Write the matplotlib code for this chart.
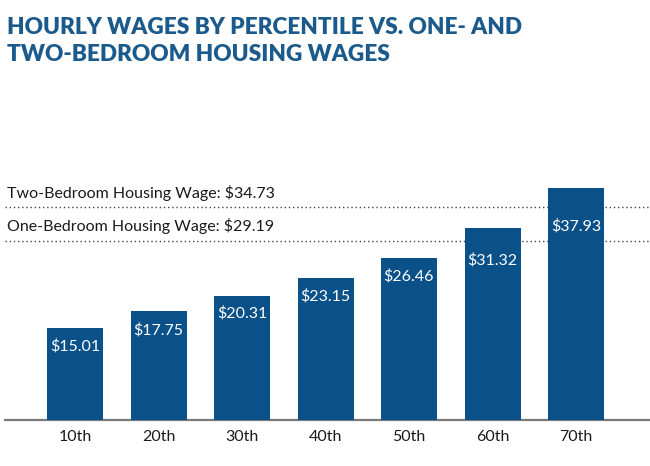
import matplotlib
matplotlib.use("Agg")
import matplotlib.pyplot as plt

categories = ["10th", "20th", "30th", "40th", "50th", "60th", "70th"]
wages = [15.01, 17.75, 20.31, 23.15, 26.46, 31.32, 37.93]
one_bed = 29.19
two_bed = 34.73
title_lines = ["HOURLY WAGES BY PERCENTILE VS. ONE- AND", "TWO-BEDROOM HOUSING WAGES"]

BAR = "#0b5189"
TITLE_C = "#1b5a8c"
TEXT_C = "#1a1a1a"

plt.rcParams['font.family'] = ['Lato', 'DejaVu Sans']

W, H = 650, 466
fig = plt.figure(figsize=(W / 100, H / 100), dpi=100)
ax_left, ax_right = 5, 650
base_y, top_y = 420, 175
ax = fig.add_axes([ax_left / W, (H - base_y) / H, (ax_right - ax_left) / W, (base_y - top_y) / H])

x = list(range(len(categories)))
px_per_unit = 83.5
ax.set_xlim(-(75 - ax_left) / px_per_unit, 6 + (ax_right - 576) / px_per_unit)
ax.set_ylim(0, 40)

ax.bar(x, wages, width=56 / px_per_unit, color=BAR, zorder=3)

for yv in (one_bed, two_bed):
    ax.axhline(yv, color="#444444", linestyle=(0, (1, 2)), linewidth=1.0, zorder=1)

ax.text(0.003, two_bed + 1.1, f"Two-Bedroom Housing Wage: ${two_bed:.2f}",
        transform=ax.get_yaxis_transform(), fontsize=11.5, color=TEXT_C, va="bottom", ha="left")
ax.text(0.003, one_bed + 1.1, f"One-Bedroom Housing Wage: ${one_bed:.2f}",
        transform=ax.get_yaxis_transform(), fontsize=11.5, color=TEXT_C, va="bottom", ha="left")

# label offsets (points below bar top)
offsets = [13, 13.5, 13, 13, 13.5, 23, 27.5]
for xi, v, off in zip(x, wages, offsets):
    ax.annotate(f"${v:.2f}", (xi, v), xytext=(0, -off), textcoords="offset points",
                ha="center", va="center", color="white", fontsize=11.5, zorder=4)

for s in ("top", "right", "left"):
    ax.spines[s].set_visible(False)
ax.spines["bottom"].set_color("#7a7a7a")
ax.spines["bottom"].set_linewidth(1.6)
ax.set_yticks([])
ax.set_xticks(x)
ax.set_xticklabels(categories, fontsize=11.5, color=TEXT_C)
ax.tick_params(axis="x", length=0, pad=7)

fig.text(7 / W, 1 - 34.3 / H, title_lines[0], fontsize=16.3, fontweight="heavy", color=TITLE_C,
         ha="left", va="baseline")
fig.text(7 / W, 1 - 61 / H, title_lines[1], fontsize=16.3, fontweight="heavy", color=TITLE_C,
         ha="left", va="baseline")

fig.savefig("out.png", dpi=100)
